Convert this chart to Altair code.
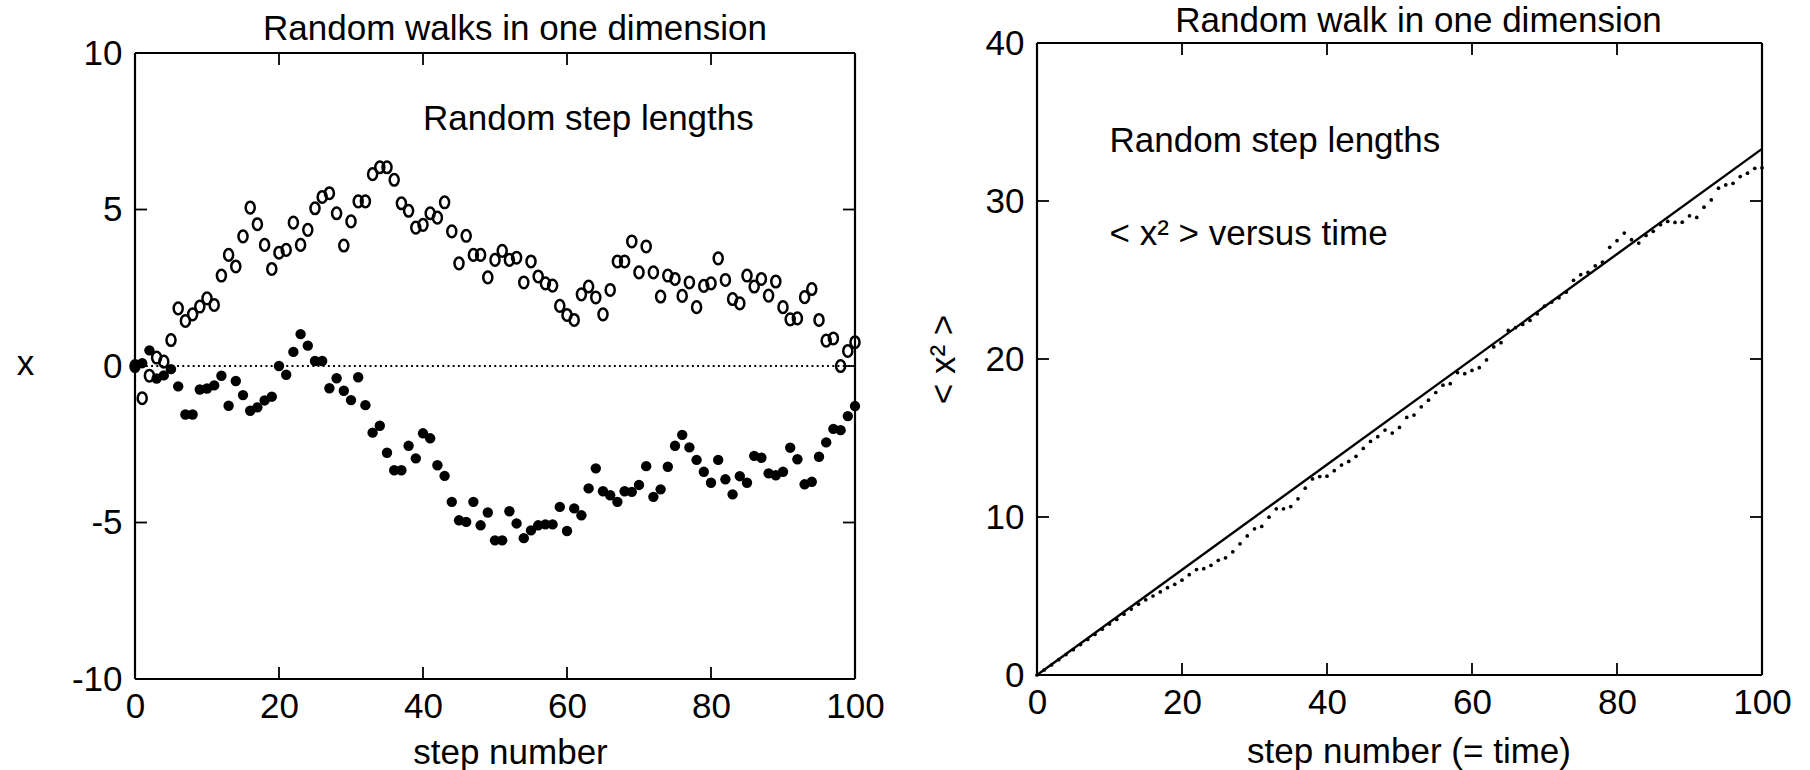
import altair as alt
import pandas as pd

FONT = "Liberation Sans"
FS = 35

steps = list(range(101))

open_walk = [
    0.00, -1.03, -0.31, 0.27, 0.14, 0.83, 1.84, 1.44, 1.65, 1.90,
    2.16, 1.95, 2.89, 3.55, 3.18, 4.14, 5.06, 4.53, 3.87, 3.10,
    3.62, 3.71, 4.58, 3.87, 4.35, 5.04, 5.40, 5.52, 4.88, 3.85,
    4.62, 5.26, 5.26, 6.13, 6.35, 6.35, 5.95, 5.20, 4.96, 4.42,
    4.51, 4.88, 4.74, 5.23, 4.30, 3.28, 4.16, 3.55, 3.55, 2.83,
    3.39, 3.68, 3.39, 3.46, 2.67, 3.34, 2.86, 2.64, 2.57, 1.92,
    1.63, 1.47, 2.29, 2.54, 2.19, 1.65, 2.43, 3.34, 3.34, 3.98,
    2.99, 3.82, 2.99, 2.22, 2.89, 2.78, 2.24, 2.67, 1.88, 2.56,
    2.64, 3.44, 2.75, 2.14, 2.00, 2.89, 2.54, 2.78, 2.25, 2.70,
    1.88, 1.49, 1.52, 2.20, 2.46, 1.47, 0.81, 0.88, 0.00, 0.48,
    0.76,
]

filled_walk = [
    0.00, 0.09, 0.50, -0.40, -0.30, -0.10, -0.65, -1.55, -1.55, -0.75,
    -0.72, -0.62, -0.31, -1.27, -0.48, -0.93, -1.43, -1.32, -1.10, -0.98,
    0.00, -0.28, 0.45, 1.02, 0.65, 0.16, 0.16, -0.71, -0.39, -0.79,
    -1.09, -0.36, -1.25, -2.13, -1.91, -2.77, -3.33, -3.33, -2.55, -2.95,
    -2.15, -2.31, -3.17, -3.51, -4.34, -4.93, -4.98, -4.34, -5.09, -4.68,
    -5.57, -5.57, -4.64, -5.03, -5.50, -5.25, -5.09, -5.06, -5.06, -4.50,
    -5.27, -4.55, -4.77, -3.91, -3.27, -4.00, -4.13, -4.34, -4.00, -4.02,
    -3.80, -3.20, -4.18, -3.94, -3.22, -2.55, -2.20, -2.60, -3.00, -3.38,
    -3.73, -3.00, -3.62, -4.10, -3.52, -3.73, -2.87, -2.93, -3.43, -3.49,
    -3.38, -2.61, -2.98, -3.78, -3.70, -2.90, -2.44, -2.01, -2.05, -1.60,
    -1.28,
]

msd = [
    0.00, 0.32, 0.64, 0.97, 1.29, 1.60, 1.93, 2.25, 2.57, 2.90,
    3.22, 3.52, 3.85, 4.17, 4.48, 4.76, 5.00, 5.26, 5.53, 5.74,
    6.00, 6.35, 6.67, 6.73, 6.94, 7.26, 7.42, 7.80, 8.30, 8.80,
    9.25, 9.40, 9.99, 10.52, 10.52, 10.66, 11.15, 11.82, 12.41, 12.56,
    12.58, 12.93, 13.29, 13.52, 13.84, 14.34, 14.78, 15.08, 15.50, 15.31,
    15.67, 16.30, 16.45, 16.97, 17.39, 17.88, 18.34, 18.44, 19.14, 19.07,
    19.28, 19.45, 19.94, 20.76, 21.03, 21.81, 21.98, 22.19, 22.44, 22.86,
    23.34, 23.60, 23.87, 24.23, 24.98, 25.34, 25.49, 25.90, 26.13, 27.07,
    27.49, 27.97, 27.55, 27.34, 27.82, 28.08, 28.50, 28.71, 28.64, 28.66,
    29.06, 28.96, 29.61, 30.07, 30.81, 31.02, 31.12, 31.55, 31.76, 32.07,
    32.10,
]

theory_step = [0, 100]
theory_val = [0, 33.3]

x_ticks = [0, 20, 40, 60, 80, 100]
y_ticks_left = [-10, -5, 0, 5, 10]
y_ticks_right = [0, 10, 20, 30, 40]

# left frame spans -10..10, plotted in an area that starts 10 px higher than its frame
W1, H1 = 720, 636
Y1_TOP = 10.32
W2, H2 = 725, 632
TICK = 12
LW = 2.2

# open markers in the reference are slightly tall ovals (like a letter "o")
OVAL = "M -0.78 0 A 0.78 1 0 1 0 0.78 0 A 0.78 1 0 1 0 -0.78 0 Z"


def axis_x(title, title_x, title_y):
    return alt.Axis(values=x_ticks, title=title, ticks=False, tickSize=0, domain=False, grid=False,
                    labelFont=FONT, labelFontSize=FS, labelColor="black", labelPadding=10,
                    labelExpr="'' + datum.value", labelFlush=False,
                    titleFont=FONT, titleFontSize=FS, titleFontWeight="normal", titleColor="black",
                    titleX=title_x, titleY=title_y, titleBaseline="alphabetic", titleAlign="center")


def axis_y(vals, title, title_x, title_y, angle, baseline):
    return alt.Axis(values=vals, title=title, ticks=False, tickSize=0, domain=False, grid=False,
                    labelFont=FONT, labelFontSize=FS, labelColor="black", labelPadding=13,
                    labelExpr="'' + datum.value", labelFlush=False,
                    titleFont=FONT, titleFontSize=FS, titleFontWeight="normal", titleColor="black",
                    titleX=title_x, titleY=title_y, titleAngle=angle, titleAlign="center",
                    titleBaseline=baseline)


def frame(xs, ys, xvals, yvals, x0, x1, y0, y1):
    xdf = pd.DataFrame({"step": xvals})
    ydf = pd.DataFrame({"val": yvals})
    one = pd.DataFrame({"k": [0]})
    layers = []
    # box edges
    layers.append(alt.Chart(one).mark_rule(color="black", strokeWidth=LW).encode(
        y=alt.datum(y1), x=alt.datum(x0), x2=alt.datum(x1)))
    layers.append(alt.Chart(one).mark_rule(color="black", strokeWidth=LW).encode(
        y=alt.datum(y0), x=alt.datum(x0), x2=alt.datum(x1)))
    layers.append(alt.Chart(one).mark_rule(color="black", strokeWidth=LW).encode(
        x=alt.datum(x0), y=alt.datum(y0), y2=alt.datum(y1)))
    layers.append(alt.Chart(one).mark_rule(color="black", strokeWidth=LW).encode(
        x=alt.datum(x1), y=alt.datum(y0), y2=alt.datum(y1)))
    # inward ticks on all four sides
    layers.append(alt.Chart(xdf).mark_tick(orient="vertical", size=TICK, thickness=1.8, color="black",
                                           opacity=1, yOffset=-TICK / 2).encode(x=xs, y=alt.datum(y0)))
    layers.append(alt.Chart(xdf).mark_tick(orient="vertical", size=TICK, thickness=1.8, color="black",
                                           opacity=1, yOffset=TICK / 2).encode(x=xs, y=alt.datum(y1)))
    layers.append(alt.Chart(ydf).mark_tick(orient="horizontal", size=TICK, thickness=1.8, color="black",
                                           opacity=1, xOffset=TICK / 2).encode(y=ys, x=alt.datum(x0)))
    layers.append(alt.Chart(ydf).mark_tick(orient="horizontal", size=TICK, thickness=1.8, color="black",
                                           opacity=1, xOffset=-TICK / 2).encode(y=ys, x=alt.datum(x1)))
    return layers


def title_text(text, px, py):
    return alt.Chart(pd.DataFrame({"t": [text]})).mark_text(
        font=FONT, fontSize=FS, align="center", baseline="alphabetic", color="black").encode(
        text="t:N", x=alt.value(px), y=alt.value(py))


# ---------------- left panel ----------------
xs1 = alt.X("step:Q", scale=alt.Scale(domain=[0, 100], nice=False, zero=False),
            axis=axis_x("step number", W1 / 2 + 15, 84))
ys1 = alt.Y("val:Q", scale=alt.Scale(domain=[-10, Y1_TOP], nice=False, zero=False),
            axis=axis_y(y_ticks_left, "x", -110, 331, 0, "alphabetic"))

open_df = pd.DataFrame({"step": steps, "val": open_walk})
filled_df = pd.DataFrame({"step": steps, "val": filled_walk})

zero_line = alt.Chart(pd.DataFrame({"val": [0]})).mark_rule(
    color="black", strokeWidth=1.9, strokeDash=[1.9, 3.3]).encode(y=ys1)
open_pts = alt.Chart(open_df).mark_point(
    shape=OVAL, filled=False, color="black", strokeWidth=2.5, size=135, opacity=1).encode(x=xs1, y=ys1)
filled_pts = alt.Chart(filled_df).mark_circle(color="black", size=108, opacity=1).encode(x=xs1, y=ys1)
label1 = alt.Chart(pd.DataFrame({"step": [40], "val": [7.55], "t": ["Random step lengths"]})).mark_text(
    font=FONT, fontSize=FS, align="left", baseline="alphabetic", color="black").encode(x=xs1, y=ys1, text="t:N")

left = alt.layer(
    zero_line, open_pts, filled_pts, label1,
    *frame(xs1, ys1, x_ticks, y_ticks_left, 0, 100, -10, 10),
    title_text("Random walks in one dimension", W1 / 2 + 20, -3),
).properties(width=W1, height=H1)

# ---------------- right panel ----------------
xs2 = alt.X("step:Q", scale=alt.Scale(domain=[0, 100], nice=False, zero=False),
            axis=axis_x("step number (= time)", W2 / 2 + 9, 87))
ys2 = alt.Y("val:Q", scale=alt.Scale(domain=[0, 40], nice=False, zero=False),
            axis=axis_y(y_ticks_right, "< x² >", -94, H2 / 2, -90, "middle"))

theory_df = pd.DataFrame({"step": theory_step, "val": theory_val})
msd_df = pd.DataFrame({"step": steps, "val": msd})

theory_line = alt.Chart(theory_df).mark_line(color="black", strokeWidth=2.4).encode(x=xs2, y=ys2)
msd_pts = alt.Chart(msd_df).mark_circle(color="black", size=14, opacity=1).encode(x=xs2, y=ys2)
notes_df = pd.DataFrame({"step": [10, 10], "val": [33.1, 27.2],
                         "t": ["Random step lengths", "< x² > versus time"]})
notes = alt.Chart(notes_df).mark_text(
    font=FONT, fontSize=FS, align="left", baseline="alphabetic", color="black").encode(x=xs2, y=ys2, text="t:N")

right = alt.layer(
    theory_line, msd_pts, notes,
    *frame(xs2, ys2, x_ticks, y_ticks_right, 0, 100, 0, 40),
    title_text("Random walk in one dimension", W2 / 2 + 19, -11),
).properties(width=W2, height=H2)

chart = alt.hconcat(left, right, spacing=41).properties(
    padding={"left": 16, "top": 4, "right": 5, "bottom": 0}
).configure(background="white").configure_view(stroke=None)

chart.save("out.html", embed_options={"renderer": "svg", "actions": False})
